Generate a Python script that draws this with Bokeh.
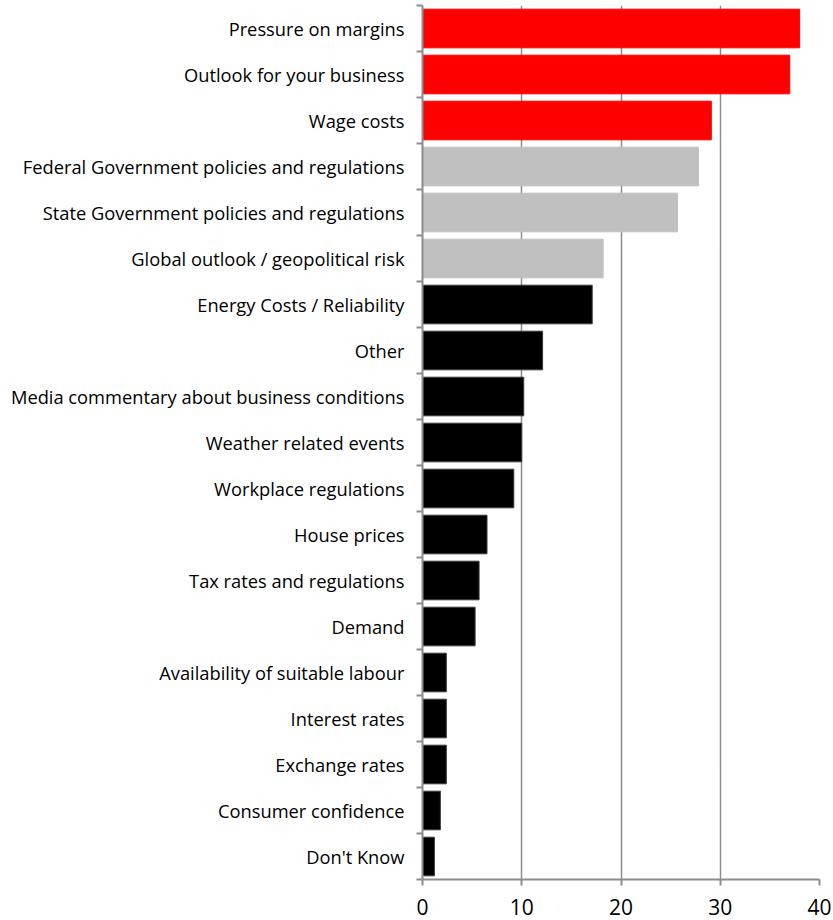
from bokeh.plotting import figure
from bokeh.models import ColumnDataSource, FixedTicker, Range1d
from bokeh.transform import factor_cmap
from bokeh.embed import file_html
from bokeh.resources import INLINE

categories = [
    "Pressure on margins",
    "Outlook for your business",
    "Wage costs",
    "Federal Government policies and regulations",
    "State Government policies and regulations",
    "Global outlook / geopolitical risk",
    "Energy Costs / Reliability",
    "Other",
    "Media commentary about business conditions",
    "Weather related events",
    "Workplace regulations",
    "House prices",
    "Tax rates and regulations",
    "Demand",
    "Availability of suitable labour",
    "Interest rates",
    "Exchange rates",
    "Consumer confidence",
    "Don't Know",
]
values = [38.0, 37.0, 29.1, 27.8, 25.7, 18.2, 17.1, 12.1, 10.2, 10.0,
          9.2, 6.5, 5.7, 5.3, 2.4, 2.4, 2.4, 1.8, 1.2]
groups = ["top"] * 3 + ["mid"] * 3 + ["rest"] * 13
x_ticks = [0, 10, 20, 30, 40]

n = len(categories)
ypos = [n - 1 - i for i in range(n)]

src = ColumnDataSource(dict(y=ypos, v=values, g=groups, label=categories))

p = figure(width=833, height=920, output_backend="svg", toolbar_location=None,
           x_range=Range1d(0, 40), y_range=Range1d(-0.5, n - 0.5),
           min_border_left=422, min_border_right=14, min_border_top=5,
           min_border_bottom=41)
p.outline_line_color = None
p.background_fill_color = "white"
p.border_fill_color = "white"

p.hbar(y="y", right="v", left=0, height=0.84, source=src,
       fill_color=factor_cmap("g", ["#ff0000", "#c0c0c0", "#000000"], ["top", "mid", "rest"]),
       line_color=factor_cmap("g", ["#ff0000", "#c0c0c0", "#3a3a3a"], ["top", "mid", "rest"]),
       line_width=1)

# x axis
p.xaxis.ticker = FixedTicker(ticks=x_ticks)
p.xaxis.axis_line_color = "#8c8c8c"
p.xaxis.axis_line_width = 2
p.xaxis.major_tick_line_color = "#8c8c8c"
p.xaxis.major_tick_line_width = 2
p.xaxis.major_tick_out = 6
p.xaxis.major_tick_in = 0
p.xaxis.minor_tick_line_color = None
p.xaxis.major_label_text_font = "Open Sans"
p.xaxis.major_label_text_font_size = "21px"
p.xaxis.major_label_text_color = "#000000"
p.xaxis.major_label_standoff = 13

# y axis: labels at centres, ticks at band boundaries
p.yaxis.ticker = FixedTicker(ticks=ypos, minor_ticks=[k - 0.5 for k in range(n + 1)])
p.yaxis.major_label_overrides = {y: lab for y, lab in zip(ypos, categories)}
p.yaxis.axis_line_color = "#8c8c8c"
p.yaxis.axis_line_width = 2
p.yaxis.major_tick_line_color = None
p.yaxis.major_tick_out = 0
p.yaxis.major_tick_in = 0
p.yaxis.minor_tick_line_color = "#8c8c8c"
p.yaxis.minor_tick_line_width = 2
p.yaxis.minor_tick_out = 6
p.yaxis.minor_tick_in = 0
p.yaxis.major_label_text_font = "Open Sans"
p.yaxis.major_label_text_font_size = "18.3px"
p.yaxis.major_label_text_color = "#000000"
p.yaxis.major_label_standoff = 12

p.ygrid.grid_line_color = None
p.xgrid.ticker = FixedTicker(ticks=x_ticks)
p.xgrid.grid_line_color = "#8c8c8c"
p.xgrid.grid_line_width = 1.5
p.xgrid.level = "underlay"

open("out.html", "w").write(file_html(p, INLINE))
